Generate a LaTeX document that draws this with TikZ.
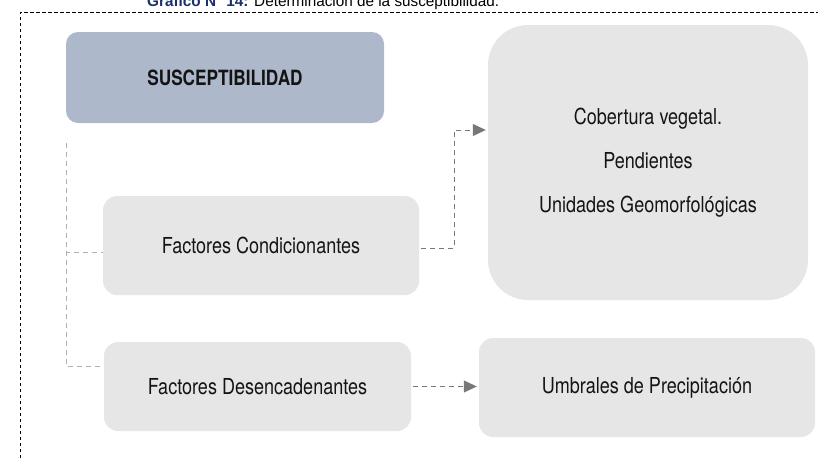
\documentclass[tikz,border=0pt]{standalone}
\usepackage{fontspec}
\setmainfont[FakeStretch=0.82]{TeX Gyre Heros}
\newfontfamily\titlefont{Liberation Sans}
\usetikzlibrary{arrows.meta}
\definecolor{susfill}{HTML}{ADB8CB}
\definecolor{boxfill}{HTML}{E6E6E6}
\definecolor{linkgray}{HTML}{B0B0B0}
\definecolor{arrowgray}{HTML}{787878}
\definecolor{titlenavy}{HTML}{1B2F6B}
\definecolor{txt}{HTML}{141414}
\tikzset{
  box/.style={draw=none, fill=boxfill, rounded corners=14pt, inner sep=0pt,
    align=center, font=\fontsize{22}{26}\selectfont, text=txt},
  link/.style={draw=linkgray, line width=0.8pt, dash pattern=on 5pt off 4pt},
  flow/.style={draw=arrowgray, line width=1pt, dash pattern=on 5pt off 4pt,
    -{Triangle[length=13pt,width=12pt]}, color=arrowgray},
  frame/.style={draw=black, line width=0.9pt, dash pattern=on 3.5pt off 2.5pt}
}
\begin{document}
\begin{tikzpicture}[x=1pt,y=-1pt]
\useasboundingbox (0,0) rectangle (818,458);
% title (cut at the top)
\node[anchor=base west, inner sep=0pt, font=\titlefont\fontsize{15.3}{18}\selectfont] (title) at (147,6.5)
  {\textcolor{titlenavy}{\bfseries Gráfico N° 14:} Determinación de la susceptibilidad.};
% frame
\draw[frame] (20,458) -- (20,12) -- (818,12);
% boxes
\node[box, fill=susfill, rounded corners=12pt, minimum width=318pt, minimum height=91pt,
  font=\fontsize{21}{24}\selectfont\bfseries] (sus) at (225,77.5) {SUSCEPTIBILIDAD};
\node[box, minimum width=316pt, minimum height=99pt] (cond) at (261,245.5) {Factores Condicionantes};
\node[box, minimum width=307pt, minimum height=89pt] (des) at (257.5,386.5) {Factores Desencadenantes};
\node[box, rounded corners=40pt, minimum width=320pt, minimum height=275pt,
  font=\fontsize{22}{44}\selectfont] (big) at (648,162.5)
  {Cobertura vegetal.\\Pendientes\\Unidades Geomorfológicas};
\node[box, minimum width=336pt, minimum height=99pt] (umb) at (647,387.5) {Umbrales de Precipitación};
% left connectors
\coordinate (c1) at (66,143);
\draw[link] (c1) |- ([yshift=-6.5pt]cond.west);
\draw[link] (c1) |- ([yshift=20.5pt]des.west);
% arrows
\draw[flow] ([yshift=-2.5pt,xshift=2pt]cond.east) -- ++(33,0) |- ([yshift=32.5pt,xshift=-2pt]big.west);
\draw[flow] ([xshift=2pt]des.east) -- ([xshift=-2pt]umb.west |- des.east);
\end{tikzpicture}
\end{document}
